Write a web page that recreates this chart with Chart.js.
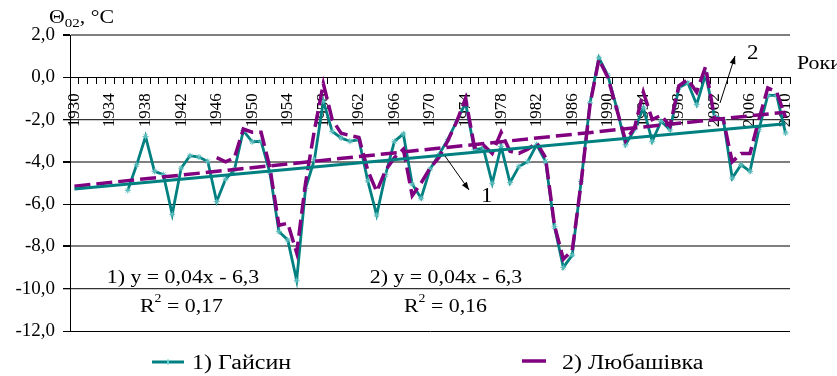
<!DOCTYPE html>
<html>
<head>
<meta charset="utf-8">
<script src="https://cdn.jsdelivr.net/npm/chart.js@4.4.1/dist/chart.umd.min.js"></script>
<style>
html,body{margin:0;padding:0;background:#fff;}
#wrap{width:837px;height:376px;position:relative;}
</style>
</head>
<body>
<div id="wrap"><canvas id="c" width="837" height="376"></canvas></div>
<script>
// ---- data ----
const years = [];
for (let y = 1930; y <= 2010; y++) years.push(String(y));

// 1) Гайсин (1930..2010)
const haisyn = [
  null, null, null, null, null, null,
  -5.35, -4.14, -2.80, -4.45, -4.60, -6.48, -4.30, -3.71, -3.77, -3.98,
  -5.88, -4.82, -4.38, -2.52, -3.05, -3.03, -4.53, -7.30, -7.70, -9.60,
  -5.25, -3.90, -1.13, -2.56, -2.87, -3.03, -2.95, -4.90, -6.51, -4.61,
  -3.03, -2.68, -5.05, -5.72, -4.35, -3.66, -2.95, -2.08, -1.21, -3.43,
  -3.35, -5.01, -3.27, -4.98, -4.22, -3.98, -3.19, -3.98, -7.07, -8.99,
  -8.41, -4.93, -1.21, 0.92, 0.10, -1.45, -3.19, -2.48, -1.45, -3.03,
  -2.08, -2.48, -0.50, -0.26, -1.29, 0.13, -1.85, -2.00, -4.77, -4.14,
  -4.45, -2.48, -0.86, -0.86, -2.64
];

// 2) Любашівка (1930..2010)
const liubashivka = [
  null, null, null, null, null, null, null, null, null, null,
  null, null, null, null, null, null,
  -3.80, -4.00, -3.80, -2.45, -2.60, -2.60, -4.30, -7.00, -6.90, -8.30,
  -5.00, -2.50, -0.30, -2.00, -2.65, -2.75, -2.85, -4.40, -5.40, -4.40,
  -3.80, -3.40, -5.60, -5.00, -4.30, -3.80, -3.00, -2.10, -1.00, -3.30,
  -3.20, -3.60, -2.60, -3.50, -3.60, -3.40, -3.10, -3.80, -7.00, -8.60,
  -8.20, -5.00, -1.30, 0.85, 0.00, -1.50, -3.00, -2.40, -0.70, -2.00,
  -1.80, -2.30, -0.40, -0.10, -0.70, 0.50, -1.90, -2.00, -4.00, -3.60,
  -3.60, -2.00, -0.50, -0.70, -1.90
];

// linear trend end points (first year, last year)
const trendHaisyn = [-5.28, -2.20];
const trendLiubashivka = [-5.15, -1.65];

const yTicks = [2, 0, -2, -4, -6, -8, -10, -12];
const seriesNames = ['1) Гайсин', '2) Любашівка'];
const eqTexts = ['1) y = 0,04x - 6,3', '2) y = 0,04x - 6,3'];
const r2Texts = [' = 0,17', ' = 0,16'];

const TEAL = '#008080';
const PURPLE = '#800080';
const FONT = '"Liberation Serif", "Times New Roman", serif';
Chart.defaults.font.family = FONT;

function trendPoints(t) {
  return [{x: years[0], y: t[0]}, {x: years[years.length - 1], y: t[1]}];
}

function txt(ctx, s, x, y, size, align, sx) {
  ctx.save();
  ctx.font = size + 'px ' + FONT;
  ctx.fillStyle = '#000';
  ctx.textBaseline = 'alphabetic';
  ctx.textAlign = align || 'left';
  ctx.translate(x, y);
  ctx.scale(sx || 1, 1);
  ctx.fillText(s, 0, 0);
  const w = ctx.measureText(s).width * (sx || 1);
  ctx.restore();
  return w;
}

function arrow(ctx, x1, y1, x2, y2) {
  ctx.save();
  ctx.strokeStyle = '#000';
  ctx.fillStyle = '#000';
  ctx.lineWidth = 1;
  ctx.beginPath();
  ctx.moveTo(x1, y1);
  ctx.lineTo(x2, y2);
  ctx.stroke();
  const a = Math.atan2(y2 - y1, x2 - x1);
  const L = 8, W = 3;
  ctx.beginPath();
  ctx.moveTo(x2, y2);
  ctx.lineTo(x2 - L * Math.cos(a) + W * Math.sin(a), y2 - L * Math.sin(a) - W * Math.cos(a));
  ctx.lineTo(x2 - L * Math.cos(a) - W * Math.sin(a), y2 - L * Math.sin(a) + W * Math.cos(a));
  ctx.closePath();
  ctx.fill();
  ctx.restore();
}

function star(ctx, x, y, r, color) {
  ctx.save();
  ctx.strokeStyle = color;
  ctx.lineWidth = 1;
  ctx.beginPath();
  const d = r * Math.SQRT1_2;
  ctx.moveTo(x - d, y - d); ctx.lineTo(x + d, y + d);
  ctx.moveTo(x + d, y - d); ctx.lineTo(x - d, y + d);
  ctx.moveTo(x, y - r); ctx.lineTo(x, y + r);
  ctx.stroke();
  ctx.restore();
}

const annotations = {
  id: 'annotations',
  afterDraw(chart) {
    const ctx = chart.ctx;
    const ca = chart.chartArea;
    const sx = 1.15;
    // y axis title
    let x = 49;
    x += txt(ctx, 'Θ', x, 23, 19, 'left', sx);
    x += txt(ctx, '02', x, 27, 13, 'left', sx);
    txt(ctx, ', °C', x, 23, 19, 'left', sx);
    // x axis name
    txt(ctx, 'Роки', ca.right + 7, 69, 19, 'left', sx);
    // equations
    txt(ctx, eqTexts[0], 183, 283, 19, 'center', sx);
    let rx = 140;
    rx += txt(ctx, 'R', rx, 312, 19, 'left', sx);
    rx += txt(ctx, '2', rx, 302, 12, 'left', sx);
    txt(ctx, r2Texts[0], rx, 312, 19, 'left', sx);
    txt(ctx, eqTexts[1], 446, 283, 19, 'center', sx);
    rx = 404;
    rx += txt(ctx, 'R', rx, 312, 19, 'left', sx);
    rx += txt(ctx, '2', rx, 302, 12, 'left', sx);
    txt(ctx, r2Texts[1], rx, 312, 19, 'left', sx);
    // pointers
    arrow(ctx, 445, 156, 469, 190);
    txt(ctx, '1', 481, 202, 20, 'left', sx);
    arrow(ctx, 720, 103, 735, 56);
    txt(ctx, '2', 747, 59, 20, 'left', sx);
    // legend
    ctx.save();
    ctx.strokeStyle = TEAL; ctx.lineWidth = 3;
    ctx.beginPath(); ctx.moveTo(152, 362); ctx.lineTo(184, 362); ctx.stroke();
    ctx.restore();
    star(ctx, 168, 362, 3, '#6fcfcf');
    txt(ctx, seriesNames[0], 192, 369, 20, 'left', 1.2);
    ctx.save();
    ctx.strokeStyle = PURPLE; ctx.lineWidth = 3.5;
    ctx.beginPath(); ctx.moveTo(522, 361); ctx.lineTo(546, 361); ctx.stroke();
    ctx.restore();
    txt(ctx, seriesNames[1], 562, 369, 20, 'left', 1.2);
  }
};

const gridStyle = {
  '2': ['#7f7f7f', 2], '0': ['#000', 1], '-2': ['#333', 1.3], '-4': ['#7f7f7f', 2],
  '-6': ['#000', 1], '-8': ['#7f7f7f', 2], '-10': ['#333', 1.3], '-12': ['#000', 1]
};

new Chart(document.getElementById('c'), {
  type: 'line',
  data: {
    labels: years,
    datasets: [
      { label: 'trend 1', data: trendPoints(trendHaisyn), borderColor: TEAL, borderWidth: 3,
        pointRadius: 0, fill: false },
      { label: 'trend 2', data: trendPoints(trendLiubashivka), borderColor: PURPLE, borderWidth: 3.5,
        borderDash: [16, 6], pointRadius: 0, fill: false },
      { label: seriesNames[1], data: liubashivka, borderColor: PURPLE, borderWidth: 3.5,
        borderDash: [16, 6], pointRadius: 0, fill: false, tension: 0 },
      { label: seriesNames[0], data: haisyn, borderColor: TEAL, borderWidth: 2.8,
        pointStyle: 'star', pointRadius: 3, pointBorderWidth: 1, pointBorderColor: '#5fbfbf',
        pointBackgroundColor: TEAL, fill: false, tension: 0 }
    ]
  },
  options: {
    responsive: false,
    animation: false,
    devicePixelRatio: 1,
    layout: { padding: { left: 0, top: 35, right: 47, bottom: 45 } },
    plugins: { legend: { display: false }, tooltip: { enabled: false } },
    scales: {
      x: {
        type: 'category',
        offset: true,
        position: { y: 0 },
        ticks: {
          autoSkip: false, maxRotation: 90, minRotation: 90, color: '#000',
          font: { size: 17, family: FONT }, padding: 10,
          callback: function (v, i) { return (i % 4 === 0) ? this.getLabelForValue(v) : ''; }
        },
        grid: { drawOnChartArea: false, drawTicks: true, tickLength: 6, color: '#000', offset: true },
        border: { color: '#000', width: 1 }
      },
      y: {
        min: -12, max: 2,
        afterBuildTicks: s => { s.ticks = yTicks.map(v => ({ value: v })); },
        afterFit: s => { s.width = 70; },
        ticks: {
          color: '#000', font: { size: 19, family: FONT }, padding: 8,
          callback: v => v.toFixed(1).replace('.', ',')
        },
        grid: {
          color: c => (gridStyle[String(c.tick && c.tick.value)] || ['#000'])[0],
          lineWidth: c => (gridStyle[String(c.tick && c.tick.value)] || ['#000', 1])[1],
          tickColor: '#000', tickLength: 7
        },
        border: { color: '#000', width: 1 }
      }
    }
  },
  plugins: [annotations]
});
</script>
</body>
</html>
